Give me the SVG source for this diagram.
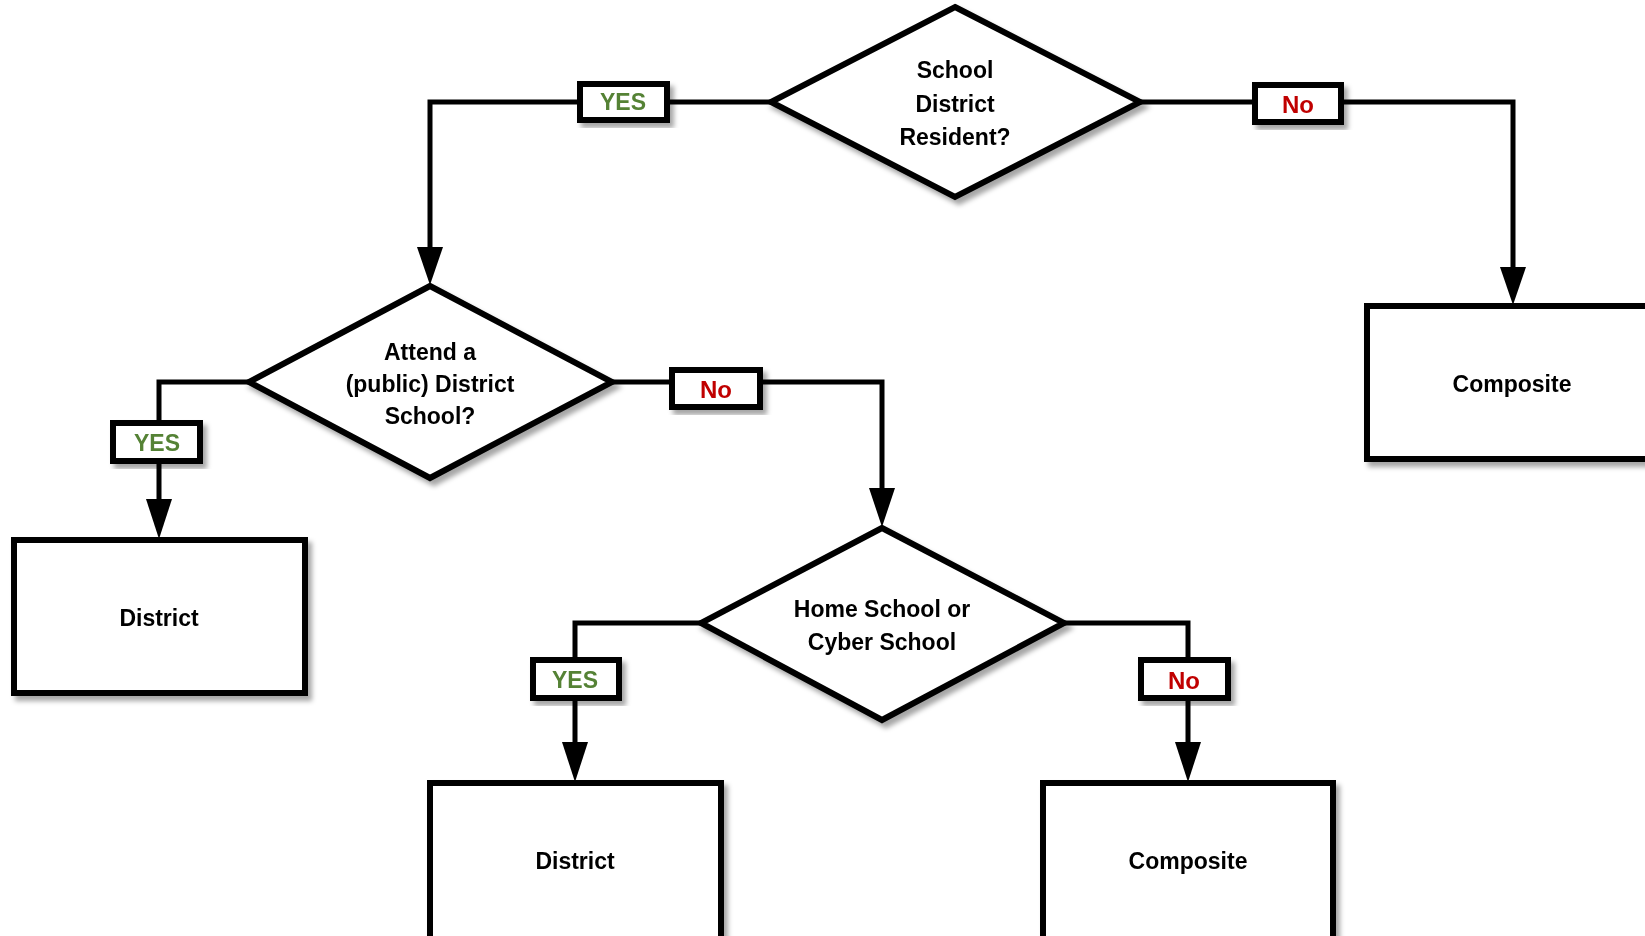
<svg xmlns="http://www.w3.org/2000/svg" width="1645" height="936" viewBox="0 0 1645 936">
<defs>
<filter id="sh" x="-10%" y="-10%" width="130%" height="130%">
<feDropShadow dx="4" dy="5" stdDeviation="2.5" flood-color="#000" flood-opacity="0.35"/>
</filter>
</defs>
<style>
.shape{fill:#fff;stroke:#000;stroke-width:6;stroke-linejoin:miter}
.lbl{fill:#fff;stroke:#000;stroke-width:6}
.conn{fill:none;stroke:#000;stroke-width:5;stroke-linejoin:miter}
.arr{fill:#000;stroke:none}
text{font-family:"Liberation Sans",Arial,sans-serif;font-weight:bold;text-anchor:middle;dominant-baseline:central}
.t{font-size:23px;fill:#000}
.yes{font-size:23px;fill:#548235}
.no{font-size:24px;fill:#C00000}
</style>
<rect width="1645" height="936" fill="#fff"/>
<g id="connectors">
<polyline class="conn" points="771,102 430,102 430,248"/>
<polygon class="arr" points="417,247 443,247 430,285"/>
<polyline class="conn" points="1140,102 1513,102 1513,268"/>
<polygon class="arr" points="1500,267 1526,267 1513,305"/>
<polyline class="conn" points="249,382 159,382 159,500"/>
<polygon class="arr" points="146,499 172,499 159,539"/>
<polyline class="conn" points="612,382 882,382 882,489"/>
<polygon class="arr" points="869,488 895,488 882,527"/>
<polyline class="conn" points="701,623 575,623 575,743"/>
<polygon class="arr" points="562,742 588,742 575,782"/>
<polyline class="conn" points="1064,623 1188,623 1188,743"/>
<polygon class="arr" points="1175,742 1201,742 1188,782"/>
</g>
<g id="d1" filter="url(#sh)">
<polygon class="shape" points="955,7 1140,102 955,197 771,102"/>
<text class="t" x="955" y="70">School</text>
<text class="t" x="955" y="104">District</text>
<text class="t" x="955" y="137">Resident?</text>
</g>
<g id="lbl-yes1" filter="url(#sh)">
<rect class="lbl" x="580" y="84" width="87" height="36"/>
<text class="yes" x="623" y="102">YES</text>
</g>
<g id="lbl-no1" filter="url(#sh)">
<rect class="lbl" x="1255" y="85" width="86" height="37"/>
<text class="no" x="1298" y="104">No</text>
</g>
<g id="box-composite1" filter="url(#sh)">
<rect class="shape" x="1367" y="306" width="300" height="153"/>
<text class="t" x="1512" y="384">Composite</text>
</g>
<g id="d2" filter="url(#sh)">
<polygon class="shape" points="430,286 612,382 430,478 249,382"/>
<text class="t" x="430" y="352">Attend a</text>
<text class="t" x="430" y="384">(public) District</text>
<text class="t" x="430" y="416">School?</text>
</g>
<g id="lbl-yes2" filter="url(#sh)">
<rect class="lbl" x="113" y="423" width="87" height="38"/>
<text class="yes" x="157" y="443">YES</text>
</g>
<g id="lbl-no2" filter="url(#sh)">
<rect class="lbl" x="672" y="370" width="88" height="37"/>
<text class="no" x="716" y="389">No</text>
</g>
<g id="box-district1" filter="url(#sh)">
<rect class="shape" x="14" y="540" width="291" height="153"/>
<text class="t" x="159" y="618">District</text>
</g>
<g id="d3" filter="url(#sh)">
<polygon class="shape" points="882,528 1064,623 882,720 701,623"/>
<text class="t" x="882" y="609">Home School or</text>
<text class="t" x="882" y="642">Cyber School</text>
</g>
<g id="lbl-yes3" filter="url(#sh)">
<rect class="lbl" x="533" y="660" width="86" height="38"/>
<text class="yes" x="575" y="680">YES</text>
</g>
<g id="lbl-no3" filter="url(#sh)">
<rect class="lbl" x="1141" y="660" width="87" height="38"/>
<text class="no" x="1184" y="680">No</text>
</g>
<g id="box-district2" filter="url(#sh)">
<rect class="shape" x="430" y="783" width="291" height="156"/>
<text class="t" x="575" y="861">District</text>
</g>
<g id="box-composite2" filter="url(#sh)">
<rect class="shape" x="1043" y="783" width="290" height="156"/>
<text class="t" x="1188" y="861">Composite</text>
</g>
</svg>
